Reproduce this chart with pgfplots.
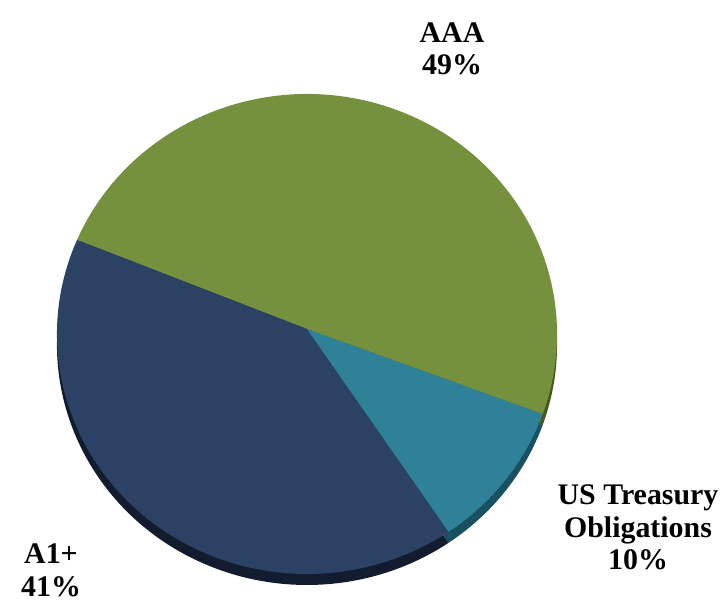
\documentclass[border=0pt]{standalone}
\usepackage{pgfplots}
\pgfplotsset{compat=1.18}
\usepackage{pgfplotstable}
\usepackage{fontspec}
\setmainfont{Liberation Serif}
\definecolor{cAAA}{RGB}{118,145,62}
\definecolor{cUST}{RGB}{47,129,151}
\definecolor{cA1}{RGB}{43,66,101}
\definecolor{dAAA}{RGB}{70,90,35}
\definecolor{dUST}{RGB}{25,80,100}
\definecolor{dA1}{RGB}{18,28,46}
\pgfplotstableread{
label pct
AAA 49
UST 10
A1 41
}\piedata
\pgfplotstablegetelem{0}{pct}\of\piedata\let\pAAA\pgfplotsretval
\pgfplotstablegetelem{1}{pct}\of\piedata\let\pUST\pgfplotsretval
\pgfplotstablegetelem{2}{pct}\of\piedata\let\pAone\pgfplotsretval
\pgfmathsetmacro\aS{-19.5}
\pgfmathsetmacro\aB{\aS+3.6*\pAAA}
\pgfmathsetmacro\aC{\aB+3.6*\pAone}
\pgfmathsetmacro\aD{\aC+3.6*\pUST}
% #1 colour, #2 ellipse centre y, #3 apex y, #4 start, #5 end
\newcommand\slice[5]{%
  \fill[#1] (axis cs:307,#3) -- ($(axis cs:307,#2)+(#4:250bp and 240bp)$)
    arc[start angle=#4,end angle=#5,x radius=250bp,y radius=240bp] -- cycle;}
\newcommand\lbl{\fontsize{30}{33}\selectfont\bfseries}
\usetikzlibrary{calc}
\begin{document}%
\begin{tikzpicture}
\begin{axis}[at={(0,0)},anchor=origin,scale only axis,width=724bp,height=602bp,
  xmin=0,xmax=724,ymin=0,ymax=602,hide axis,clip=false]
% 3D side band
\slice{dAAA}{257}{262}{\aS}{\aB}
\slice{dA1}{257}{262}{\aB}{\aC}
\slice{dUST}{257}{262}{\aC}{\aD}
% top face
\slice{cAAA}{268}{273}{\aS}{\aB}
\slice{cA1}{268}{273}{\aB}{\aC}
\slice{cUST}{268}{273}{\aC}{\aD}
% labels
\node[font=\lbl,anchor=base,inner sep=0pt] at (axis cs:452,559) {AAA};
\node[font=\lbl,anchor=base,inner sep=0pt] at (axis cs:452,527) {49\%};
\node[font=\lbl,anchor=base,inner sep=0pt] at (axis cs:638,97) {US Treasury};
\node[font=\lbl,anchor=base,inner sep=0pt] at (axis cs:638,64) {Obligations};
\node[font=\lbl,anchor=base,inner sep=0pt] at (axis cs:638,32) {10\%};
\node[font=\lbl,anchor=base,inner sep=0pt] at (axis cs:51,38) {A1+};
\node[font=\lbl,anchor=base,inner sep=0pt] at (axis cs:51,6) {41\%};
\end{axis}
\pgfresetboundingbox
\useasboundingbox (0,0) rectangle (724bp,602bp);
\end{tikzpicture}%
\end{document}
